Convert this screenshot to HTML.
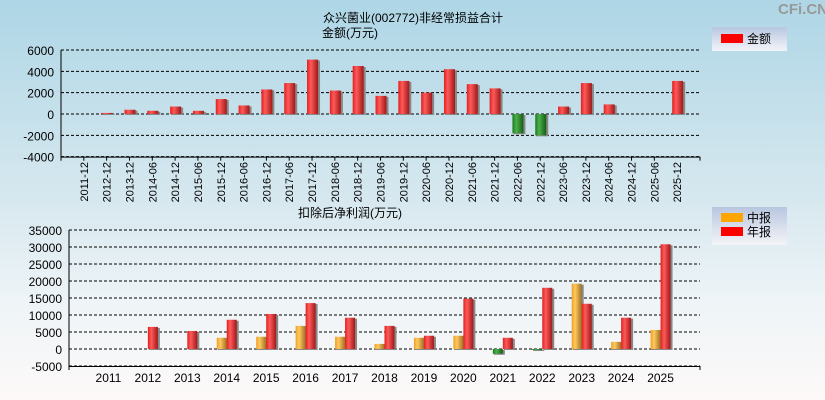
<!DOCTYPE html>
<html><head><meta charset="utf-8"><style>
html,body{margin:0;padding:0}
body{width:825px;height:400px;overflow:hidden;background:linear-gradient(#aed6e6 0%,#d7e8ef 50%,#eef4f7 75%,#fdf9f8 100%);font-family:"Liberation Sans","Noto Sans CJK SC",sans-serif}
svg{display:block}
svg text{font-family:"Liberation Sans","Noto Sans CJK SC",sans-serif}
</style></head><body>
<svg id="c" width="825" height="400" xmlns="http://www.w3.org/2000/svg">
<defs>
<linearGradient id="gr" x1="0" x2="1"><stop offset="0" stop-color="#e02020"/><stop offset="0.35" stop-color="#ff5a5a"/><stop offset="1" stop-color="#a01818"/></linearGradient>
<linearGradient id="gg" x1="0" x2="1"><stop offset="0" stop-color="#1a7a1a"/><stop offset="0.35" stop-color="#4cb04c"/><stop offset="1" stop-color="#145c14"/></linearGradient>
<linearGradient id="go" x1="0" x2="1"><stop offset="0" stop-color="#f0a020"/><stop offset="0.35" stop-color="#ffc860"/><stop offset="1" stop-color="#a07020"/></linearGradient>
<linearGradient id="lg" x1="0" y1="0" x2="0" y2="1"><stop offset="0" stop-color="#b8c6e0"/><stop offset="1" stop-color="#f4f4f8"/></linearGradient>
</defs>
<text x="778" y="14" font-size="15" fill="#999" font-weight="bold">CFi.CN</text>
<text x="323" y="22" font-size="12" fill="#000">众兴菌业(002772)非经常损益合计</text>
<text x="322" y="37" font-size="12" fill="#000">金额(万元)</text>
<text x="298" y="217" font-size="12" fill="#000">扣除后净利润(万元)</text>
<g>
<rect x="712" y="27" width="75" height="24" fill="url(#lg)"/>
<rect x="721" y="34" width="22" height="9" fill="#ff0000"/>
<text x="747" y="43" font-size="12">金额</text>
</g>
<g>
<rect x="712" y="207" width="75" height="38" fill="url(#lg)"/>
<rect x="721" y="213" width="22" height="9" fill="#ffa500"/>
<text x="747" y="222" font-size="12">中报</text>
<rect x="721" y="227" width="22" height="9" fill="#ff0000"/>
<text x="747" y="236" font-size="12">年报</text>
</g>
<g id="top"></g><g id="bot"></g>
</svg>
<script>
const topCats=["2011-12","2012-12","2013-12","2014-06","2014-12","2015-06","2015-12","2016-06","2016-12","2017-06","2017-12","2018-06","2018-12","2019-06","2019-12","2020-06","2020-12","2021-06","2021-12","2022-06","2022-12","2023-06","2023-12","2024-06","2024-12","2025-06","2025-12"];
const topVals=[0,100,400,300,700,300,1400,800,2300,2900,5100,2200,4500,1700,3100,2000,4200,2800,2400,-1800,-2000,700,2900,900,0,0,3100];
const topTicks=[6000,4000,2000,0,-2000,-4000];
const botCats=["2011","2012","2013","2014","2015","2016","2017","2018","2019","2020","2021","2022","2023","2024","2025"];
const botHalf=[0,0,0,3300,3600,6800,3600,1500,3300,3900,-1400,-300,19200,2100,5600];
const botYear=[0,6500,5300,8600,10300,13500,9200,6800,3900,14800,3300,18000,13300,9200,30800];
const botTicks=[35000,30000,25000,20000,15000,10000,5000,0,-5000];
const NS="http://www.w3.org/2000/svg";
function mk(p,t,a){const e=document.createElementNS(NS,t);for(const k in a)e.setAttribute(k,a[k]);p.appendChild(e);return e;}
const T=document.getElementById('top');
const tx0=61,tx1=700,tStep=(tx1-tx0)/28;
const ty=v=>114-v*(64/6000);
const txc=i=>tx0+(i+1)*tStep;
topTicks.forEach(v=>{
 const l=mk(T,'line',{x1:tx0,x2:tx1,y1:ty(v),y2:ty(v),stroke:'#000','stroke-dasharray':'3,2','stroke-width':1});
 
 
 const t=mk(T,'text',{x:tx0-7,y:ty(v)+5,'font-size':12,'text-anchor':'end'});t.textContent=v;
 
 
});
mk(T,'line',{x1:tx0,x2:tx0,y1:ty(6000),y2:ty(-4000)+4,stroke:'#000'});
mk(T,'line',{x1:tx0,x2:tx1,y1:ty(-4000)+0.5,y2:ty(-4000)+0.5,stroke:'#000'});
mk(T,'line',{x1:tx1,x2:tx1,y1:ty(-4000),y2:ty(-4000)+4,stroke:'#000'});
topCats.forEach((c,i)=>{
 const x=txc(i);
 mk(T,'line',{x1:x-tStep,x2:x-tStep,y1:ty(-4000),y2:ty(-4000)+4,stroke:'#000'});
 const t=mk(T,'text',{x:0,y:0,'font-size':11,'text-anchor':'end',transform:`translate(${x+4},162) rotate(-90)`});t.textContent=c;
 
 
 const v=topVals[i];if(!v)return;
 const y0=ty(0),y1=ty(v),top=Math.min(y0,y1),h=Math.abs(y1-y0);
 mk(T,'rect',{x:x-4,y:top+1,width:12,height:h,fill:'#888'});
 const r=mk(T,'rect',{x:x-5,y:top,width:11,height:h,fill:v>=0?'url(#gr)':'url(#gg)'});
 
 
});
const B=document.getElementById('bot');
const bx0=69,bx1=700,bStep=(bx1-bx0)/16;
const by=v=>349-v*(17/5000);
const bxc=i=>bx0+(i+1)*bStep;
botTicks.forEach(v=>{
 mk(B,'line',{x1:bx0,x2:bx1,y1:by(v),y2:by(v),stroke:'#000','stroke-dasharray':'3,2'});
 const t=mk(B,'text',{x:bx0-7,y:by(v)+5,'font-size':12,'text-anchor':'end'});t.textContent=v;
 
 
});
mk(B,'line',{x1:bx0,x2:bx0,y1:by(35000),y2:by(-5000)+4,stroke:'#000'});
mk(B,'line',{x1:bx0,x2:bx1,y1:by(-5000)+0.5,y2:by(-5000)+0.5,stroke:'#000'});
mk(B,'line',{x1:bx1,x2:bx1,y1:by(-5000),y2:by(-5000)+4,stroke:'#000'});
function bbar(x,v,fill,name){
 if(!v)return;
 const y0=by(0),y1=by(v),top=Math.min(y0,y1),h=Math.abs(y1-y0);
 mk(B,'rect',{x:x+1,y:top+1,width:11,height:h,fill:'#888'});
 const r=mk(B,'rect',{x:x,y:top,width:10,height:h,fill:v>=0?fill:'url(#gg)'});
 
 
}
botCats.forEach((c,i)=>{
 const x=bxc(i);
 const t=mk(B,'text',{x:x,y:382,'font-size':12,'text-anchor':'middle'});t.textContent=c;
 
 
 bbar(x-10,botHalf[i],'url(#go)','half-year-bar-'+c);
 bbar(x,botYear[i],'url(#gr)','annual-bar-'+c);
});
</script>
</body></html>
